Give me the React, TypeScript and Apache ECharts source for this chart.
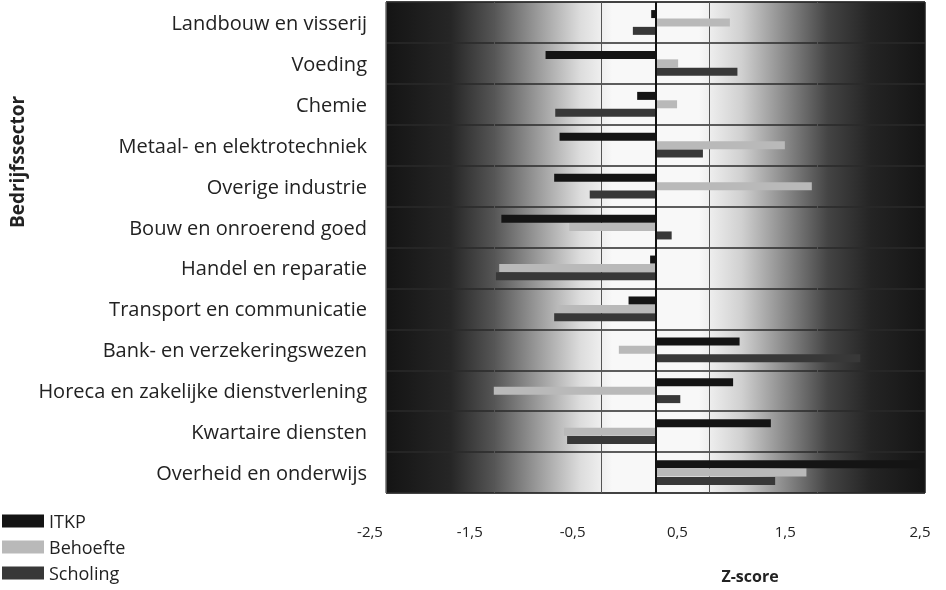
import React, { useEffect, useRef } from "react";
import * as echarts from "echarts";

const categories = [
  "Landbouw en visserij",
  "Voeding",
  "Chemie",
  "Metaal- en elektrotechniek",
  "Overige industrie",
  "Bouw en onroerend goed",
  "Handel en reparatie",
  "Transport en communicatie",
  "Bank- en verzekeringswezen",
  "Horeca en zakelijke dienstverlening",
  "Kwartaire diensten",
  "Overheid en onderwijs",
];

const itkp = [-0.04, -1.02, -0.17, -0.89, -0.94, -1.43, -0.05, -0.25, 0.78, 0.72, 1.07, 2.45];
const behoefte = [0.69, 0.21, 0.2, 1.2, 1.45, -0.8, -1.45, -0.9, -0.34, -1.5, -0.85, 1.4];
const scholing = [-0.21, 0.76, -0.93, 0.44, -0.61, 0.15, -1.48, -0.94, 1.9, 0.23, -0.82, 1.11];

const seriesNames = ["ITKP", "Behoefte", "Scholing"];
const xTitle = "Z-score";
const yTitle = "Bedrijfssector";

const FONT = "'Open Sans', 'Noto Sans', sans-serif";

// horizontal nudge (px, to the left) of each x tick label, as in the original print
const labelShift = [16, 24, 29, 32, 32, 5];

export default function App() {
  const ref = useRef<HTMLDivElement>(null);

  useEffect(() => {
    if (!ref.current) return;
    const chart = echarts.init(ref.current, undefined, { renderer: "svg" });
    const colors = ["#141414", "#b9b9b9", "#383838"];
    const data = [itkp, behoefte, scholing];
    const rich: Record<string, any> = {};
    labelShift.forEach((s, i) => {
      rich["s" + i] = {
        fontFamily: FONT,
        fontSize: 15,
        color: "#222",
        padding: [0, 2 * s, 0, 0],
      };
    });
    chart.setOption({
      animation: false,
      textStyle: { fontFamily: FONT },
      grid: {
        left: 386,
        right: 21,
        top: 2,
        bottom: 97,
        show: true,
        borderColor: "#222",
        borderWidth: 1,
        backgroundColor: {
          type: "linear",
          x: 0,
          y: 0,
          x2: 1,
          y2: 0,
          colorStops: [
            { offset: 0, color: "#141414" },
            { offset: 0.12, color: "#262626" },
            { offset: 0.2, color: "#555555" },
            { offset: 0.28, color: "#999999" },
            { offset: 0.36, color: "#dcdcdc" },
            { offset: 0.42, color: "#f8f8f8" },
            { offset: 0.58, color: "#f8f8f8" },
            { offset: 0.66, color: "#d0d0d0" },
            { offset: 0.74, color: "#8a8a8a" },
            { offset: 0.82, color: "#444444" },
            { offset: 0.9, color: "#242424" },
            { offset: 1, color: "#141414" },
          ],
        },
      },
      legend: {
        orient: "vertical",
        left: 2,
        top: 512,
        padding: 0,
        itemWidth: 42,
        itemHeight: 13,
        itemGap: 8,
        icon: "rect",
        textStyle: { fontFamily: FONT, fontSize: 18, color: "#222" },
        data: seriesNames,
      },
      xAxis: {
        type: "value",
        min: -2.5,
        max: 2.5,
        interval: 1,
        axisLine: { show: false },
        axisTick: { show: false },
        splitLine: { show: true, lineStyle: { color: "#555", width: 1 } },
        axisLabel: {
          margin: 30,
          fontSize: 15,
          color: "#222",
          fontFamily: FONT,
          rich,
          formatter: (v: number, idx: number) =>
            `{s${idx}|${v.toFixed(1).replace(".", ",")}}`,
        },
      },
      yAxis: {
        type: "category",
        data: categories,
        inverse: true,
        axisLine: { show: false },
        axisTick: { show: false },
        splitLine: { show: true, lineStyle: { color: "#2a2a2a", width: 1.5 } },
        axisLabel: { margin: 19, fontSize: 20, color: "#222", fontFamily: FONT },
      },
      graphic: [
        {
          type: "text",
          x: 17,
          y: 162,
          rotation: Math.PI / 2,
          style: {
            text: yTitle,
            fontFamily: FONT,
            fontSize: 19,
            fontWeight: "bold",
            fill: "#222",
            align: "center",
            verticalAlign: "middle",
          },
        },
        {
          type: "text",
          x: 750,
          y: 576,
          style: {
            text: xTitle,
            fontFamily: FONT,
            fontSize: 16,
            fontWeight: "bold",
            fill: "#222",
            align: "center",
            verticalAlign: "middle",
          },
        },
      ],
      series: seriesNames.map((name, i) => ({
        name,
        type: "bar",
        data: data[i],
        barWidth: 8,
        barGap: "5%",
        itemStyle: { color: colors[i] },
        ...(i === 0
          ? {
              markLine: {
                silent: true,
                symbol: "none",
                label: { show: false },
                lineStyle: { color: "#111", width: 2, type: "solid" },
                data: [{ xAxis: 0 }],
              },
            }
          : {}),
      })),
    });
    return () => chart.dispose();
  }, []);

  return (
    <div
      ref={ref}
      style={{ position: "fixed", left: 0, top: 0, width: 946, height: 590 }}
    />
  );
}
